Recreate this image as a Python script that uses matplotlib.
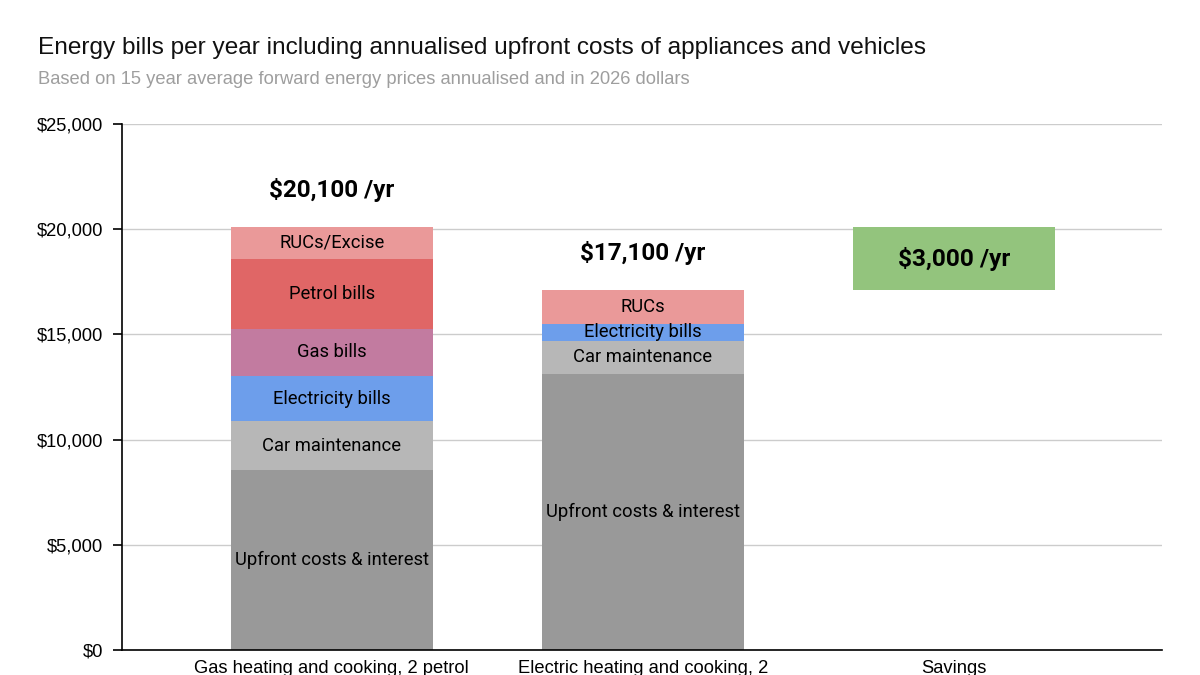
import matplotlib
matplotlib.use("Agg")
import matplotlib.pyplot as plt
import numpy as np
from matplotlib.ticker import FuncFormatter

categories = ["Gas heating and cooking, 2 petrol cars",
              "Electric heating and cooking, 2 EVs",
              "Savings"]
tick_labels = ["Gas heating and cooking, 2 petrol", "Electric heating and cooking, 2", "Savings"]

# Stacked segments (bottom to top)
gas_segments = ["Upfront costs & interest", "Car maintenance", "Electricity bills",
                "Gas bills", "Petrol bills", "RUCs/Excise"]
gas_values = [8550, 2330, 2140, 2240, 3330, 1510]

elec_segments = ["Upfront costs & interest", "Car maintenance", "Electricity bills", "RUCs"]
elec_values = [13120, 1570, 810, 1600]

totals = [20100, 17100]
savings_value = 3000
total_labels = ["$20,100 /yr", "$17,100 /yr"]
savings_label = "$3,000 /yr"

colors = {
    "Upfront costs & interest": "#999999",
    "Car maintenance": "#b7b7b7",
    "Electricity bills": "#6d9eeb",
    "Gas bills": "#c27ba0",
    "Petrol bills": "#e06666",
    "RUCs/Excise": "#ea9999",
    "RUCs": "#ea9999",
}
savings_color = "#93c47d"

fig = plt.figure(figsize=(12, 6.75), dpi=100)
ax = fig.add_axes([122/1200, 25/675, 1040/1200, 526/675])

x = np.arange(len(categories))
width = 0.65

bar_font = "Roboto"

def stack(xpos, names, vals):
    bottom = 0
    for n, v in zip(names, vals):
        ax.bar(xpos, v, width, bottom=bottom, color=colors[n], zorder=2, linewidth=0)
        ax.text(xpos, bottom + v / 2, n, ha="center", va="center", fontsize=13.2,
                family=bar_font, color="black", zorder=3)
        bottom += v
    return bottom

stack(x[0], gas_segments, gas_values)
stack(x[1], elec_segments, elec_values)

# Savings floating bar
ax.bar(x[2], savings_value, width, bottom=totals[1], color=savings_color, zorder=2, linewidth=0)
ax.text(x[2], totals[1] + savings_value / 2, savings_label, ha="center", va="center",
        fontsize=17.6, fontweight="bold", family=bar_font, zorder=3)

for xi, t, lab in zip(x[:2], totals, total_labels):
    ax.text(xi, t + 1750, lab, ha="center", va="center", fontsize=17.5,
            fontweight="bold", family=bar_font)

ax.set_xlim(-0.675, 2.67)
ax.set_ylim(0, 25000)
ax.set_yticks([0, 5000, 10000, 15000, 20000, 25000])
ax.yaxis.set_major_formatter(FuncFormatter(lambda v, p: f"${int(v):,}"))
ax.grid(axis="y", color="#cccccc", linewidth=1, zorder=0)
ax.set_axisbelow(True)
for s in ["top", "right"]:
    ax.spines[s].set_visible(False)
ax.spines["left"].set_color("black")
ax.spines["bottom"].set_color("black")
ax.spines["left"].set_linewidth(1.2)
ax.spines["bottom"].set_linewidth(1.2)
ax.tick_params(axis="y", length=6.5, width=1.2, color="black", labelsize=13.2,
               pad=7)
ax.tick_params(axis="x", length=0, labelsize=13.2, pad=7)
for lbl in ax.get_yticklabels():
    lbl.set_family("Liberation Sans")
ax.set_xticks(x)
ax.set_xticklabels(tick_labels, family="Liberation Sans", fontsize=13.2)

fig.text(38/1200, 1 - 48/675, "Energy bills per year including annualised upfront costs of appliances and vehicles",
         fontsize=17.6, family="Liberation Sans", va="center", ha="left", color="#111111")
fig.text(38/1200, 1 - 79/675, "Based on 15 year average forward energy prices annualised and in 2026 dollars",
         fontsize=13.2, family="Liberation Sans", va="center", ha="left", color="#9e9e9e")

fig.savefig("out.png", dpi=100)
